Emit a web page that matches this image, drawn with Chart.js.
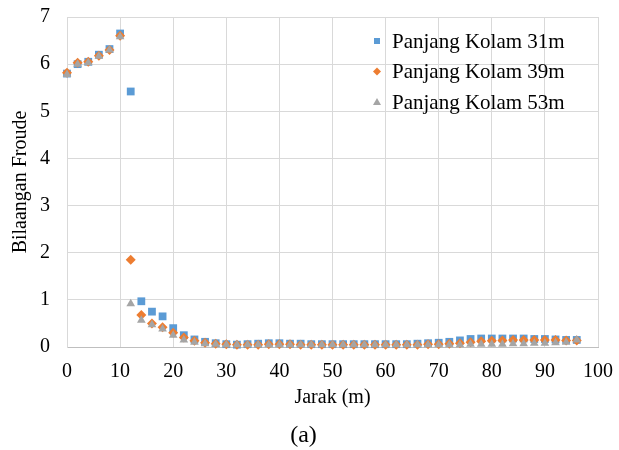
<!DOCTYPE html>
<html>
<head>
<meta charset="utf-8">
<script src="https://cdn.jsdelivr.net/npm/chart.js@4/dist/chart.umd.min.js"></script>
<style>
  html, body { margin: 0; padding: 0; background: #fff; }
  #wrap { width: 619px; height: 450px; }
</style>
</head>
<body>
<div id="wrap"><canvas id="myChart" width="619" height="450"></canvas></div>
<script>
const jarak = [0, 2, 4, 6, 8, 10, 12, 14, 16, 18, 20, 22, 24, 26, 28, 30, 32, 34, 36, 38, 40,
  42, 44, 46, 48, 50, 52, 54, 56, 58, 60, 62, 64, 66, 68, 70, 72, 74, 76, 78, 80,
  82, 84, 86, 88, 90, 92, 94, 96];

const kolam31 = [5.80, 6.00, 6.05, 6.20, 6.32, 6.65, 5.42, 0.97, 0.75, 0.65, 0.40, 0.25, 0.16, 0.11,
  0.08, 0.06, 0.05, 0.06, 0.07, 0.08, 0.08, 0.07, 0.07, 0.06, 0.06, 0.06, 0.06, 0.06, 0.06, 0.06,
  0.06, 0.06, 0.06, 0.07, 0.08, 0.09, 0.11, 0.14, 0.17, 0.18, 0.18, 0.18, 0.18, 0.18, 0.17, 0.17,
  0.16, 0.15, 0.15];

const kolam39 = [5.82, 6.03, 6.05, 6.18, 6.30, 6.60, 1.85, 0.68, 0.50, 0.42, 0.30, 0.20, 0.13, 0.09,
  0.07, 0.06, 0.05, 0.05, 0.05, 0.06, 0.06, 0.06, 0.05, 0.05, 0.05, 0.05, 0.05, 0.05, 0.05, 0.05,
  0.05, 0.05, 0.05, 0.05, 0.06, 0.06, 0.07, 0.08, 0.10, 0.12, 0.13, 0.14, 0.15, 0.15, 0.15, 0.15,
  0.15, 0.14, 0.14];

const kolam53 = [5.78, 6.00, 6.03, 6.17, 6.30, 6.58, 0.92, 0.57, 0.47, 0.38, 0.25, 0.15, 0.10, 0.07,
  0.06, 0.05, 0.05, 0.05, 0.05, 0.05, 0.05, 0.05, 0.05, 0.05, 0.05, 0.05, 0.05, 0.05, 0.05, 0.05,
  0.05, 0.05, 0.05, 0.05, 0.05, 0.05, 0.05, 0.05, 0.06, 0.06, 0.06, 0.06, 0.07, 0.07, 0.08, 0.08,
  0.09, 0.10, 0.15];

const seriesLabels = ['Panjang Kolam 31m', 'Panjang Kolam 39m', 'Panjang Kolam 53m'];
const seriesColors = ['#5B9BD5', '#ED7D31', '#A5A5A5'];
const seriesShapes = ['rect', 'rectRot', 'triangle'];
const seriesValues = [kolam31, kolam39, kolam53];

const serif = '"Liberation Serif", "Times New Roman", serif';
Chart.defaults.font.family = serif;
Chart.defaults.color = '#000';

function toPoints(values) {
  return values.map((v, i) => ({ x: jarak[i], y: v }));
}

const datasets = seriesValues.map((vals, i) => ({
  label: seriesLabels[i],
  data: toPoints(vals),
  backgroundColor: seriesColors[i],
  borderColor: seriesColors[i],
  pointStyle: seriesShapes[i],
  pointRadius: i === 0 ? 5.5 : 5,
  pointBorderWidth: 0,
  showLine: false,
  clip: false,
  order: 3 - i   // grey on top, like Excel
}));

// legend drawn inside the plot area, like the original
const insideLegend = {
  id: 'insideLegend',
  afterDatasetsDraw(chart) {
    const ctx = chart.ctx;
    const x0 = 377, y0 = 41, gap = 30.5;
    ctx.save();
    ctx.font = '21px ' + serif;
    ctx.textBaseline = 'middle';
    seriesLabels.forEach((lab, i) => {
      const y = y0 + i * gap;
      ctx.fillStyle = seriesColors[i];
      ctx.beginPath();
      if (i === 0) {
        ctx.rect(x0 - 3, y - 3, 6, 6);
      } else if (i === 1) {
        ctx.moveTo(x0, y - 4); ctx.lineTo(x0 + 4, y); ctx.lineTo(x0, y + 4); ctx.lineTo(x0 - 4, y);
      } else {
        ctx.moveTo(x0, y - 4); ctx.lineTo(x0 + 4, y + 3); ctx.lineTo(x0 - 4, y + 3);
      }
      ctx.fill();
      ctx.fillStyle = '#000';
      ctx.fillText(lab, x0 + 15, y + 1);
    });
    ctx.restore();
  }
};

const ctx = document.getElementById('myChart');
const myChart = new Chart(ctx, {
  type: 'scatter',
  data: { datasets: datasets },
  plugins: [insideLegend],
  options: {
    responsive: false,
    animation: false,
    layout: { padding: { left: 9, right: 21, top: 17, bottom: 2 } },
    plugins: {
      legend: { display: false },
      tooltip: { enabled: false },
      title: {
        display: true,
        position: 'bottom',
        text: '(a)',
        color: '#000',
        font: { family: serif, size: 24, weight: 'normal', lineHeight: 1 },
        padding: { top: 14, bottom: 0 }
      }
    },
    scales: {
      x: {
        type: 'linear',
        min: 0,
        max: 100,
        ticks: { stepSize: 10, color: '#000', font: { family: serif, size: 20 }, padding: 13 },
        grid: { color: '#d9d9d9', drawTicks: false },
        border: { color: '#bfbfbf' },
        title: { display: true, text: 'Jarak (m)', color: '#000', font: { family: serif, size: 20 }, padding: { top: 1, bottom: 0 } },
        afterFit(scale) {
          scale.height = 63;
          scale.paddingLeft = 0;
          scale.paddingRight = 0;
        }
      },
      y: {
        min: 0,
        max: 7,
        ticks: { stepSize: 1, color: '#000', font: { family: serif, size: 20 }, padding: 17 },
        grid: { color: '#d9d9d9', drawTicks: false },
        border: { color: '#d9d9d9' },
        title: { display: true, text: 'Bilaangan Froude', color: '#000', font: { family: serif, size: 20 }, padding: { top: 0, bottom: 7 } },
        afterFit(scale) {
          scale.width = 58;
          scale.paddingTop = 0;
          scale.paddingBottom = 0;
        }
      }
    }
  }
});
</script>
</body>
</html>
